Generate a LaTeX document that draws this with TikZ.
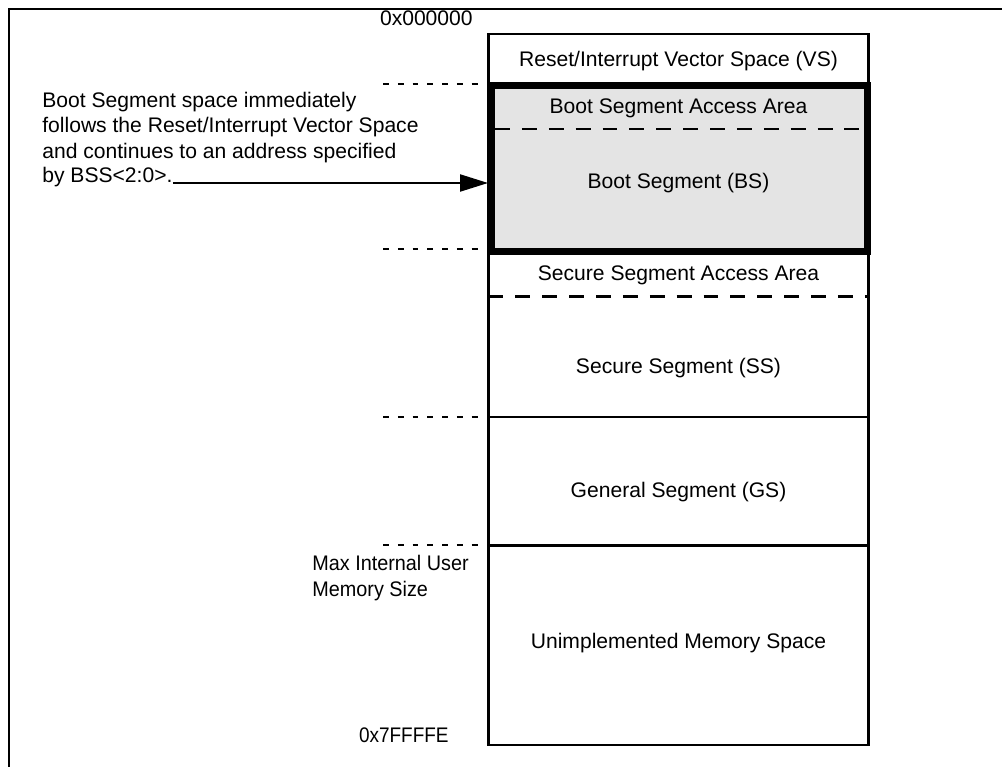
\documentclass[tikz,border=0pt]{standalone}
\usepackage{fontspec}
\setmainfont{Liberation Sans}
\newfontfamily\narrowfont[FakeStretch=0.9]{Liberation Sans}
\newfontfamily\sizefont[FakeStretch=0.94]{Liberation Sans}
\usetikzlibrary{arrows.meta}
\definecolor{BootGray}{HTML}{E4E4E4}

\begin{document}
\begin{tikzpicture}[x = 0.02cm, y = -0.02cm]
\tikzstyle{LabelStyle}=[font = \fontsize{12}{14.4}\selectfont,
                        inner sep = 0pt]
\tikzstyle{NarrowStyle}=[font = \narrowfont\fontsize{12}{14.8}\selectfont,
                         inner sep = 0pt]
\tikzstyle{WallStyle}=[line width = 1.2pt]
\tikzstyle{MarkStyle}=[line width = 1.2pt, dash pattern = on 3.4pt off 5pt]
\tikzstyle{SplitStyle}=[line width = 1.2pt, dash pattern = on 8.5pt off 6.8pt]
\tikzstyle{BootStyle}=[draw, line width = 4pt, fill = BootGray,
                       minimum width = 7.53cm, minimum height = 3.33cm,
                       inner sep = 0pt]
\tikzstyle{ArrowStyle}=[line width = 1.2pt,
                        -{Triangle[length = 0.56cm, width = 0.34cm]}]
\useasboundingbox (0,0) rectangle (1002,767);
% frame and memory column
\draw[WallStyle] (9,767) -- (9,9) -- (1002,9);
\draw[WallStyle] (488.5,34) rectangle (868.5,745);
\draw[WallStyle] (488.5,417) -- (868.5,417);
\draw[WallStyle] (488.5,545.5) -- (868.5,545.5);
\draw[SplitStyle] (488.5,296.5) -- (868.5,296.5);
\node[BootStyle] (boot) at (679.75,168.25) {};
\draw[SplitStyle] (495,129) -- (864,129);
% boundary marks
\foreach \y in {84,249,417,545}
  \draw[MarkStyle] (383,\y) -- (480,\y);
% segment names
\node[LabelStyle] (vs) at (678.5,61) {Reset/Interrupt Vector Space (VS)};
\node[LabelStyle] (bsa) at (678.5,108) {Boot Segment Access Area};
\node[LabelStyle] (bs) at (678.5,183) {Boot Segment (BS)};
\node[LabelStyle] (ssa) at (678.5,275) {Secure Segment Access Area};
\node[LabelStyle] (ss) at (678.5,368) {Secure Segment (SS)};
\node[LabelStyle] (gs) at (678.5,492) {General Segment (GS)};
\node[LabelStyle] (um) at (678.5,643) {Unimplemented Memory Space};
% addresses
\node[LabelStyle, anchor = east] (first) at (473,18) {0x000000};
\node[NarrowStyle, anchor = east] (last) at (449,735) {0x7FFFFE};
\node[NarrowStyle, font = \sizefont\fontsize{12}{14.8}\selectfont,
      anchor = north west, align = left] (max) at (312,555)
  {Max Internal User\\Memory Size};
% note on the boot segment
\node[LabelStyle, anchor = north west, align = left] (note) at (42,92)
  {Boot Segment space immediately\\
   follows the Reset/Interrupt Vector Space\\
   and continues to an address specified};
\node[LabelStyle, anchor = base west] (bss) at (42,183) {by BSS<2:0>.};
\draw[ArrowStyle] (bss.base east) -- (bss.base east -| boot.west);
\end{tikzpicture}
\end{document}
